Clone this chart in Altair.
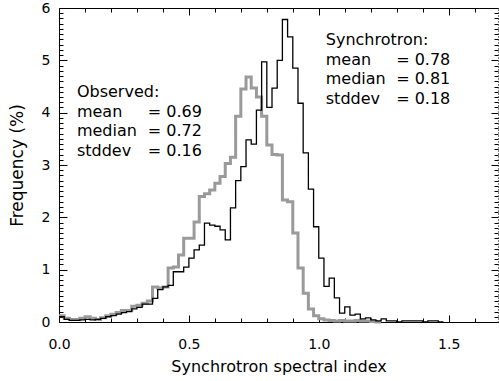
import altair as alt
import pandas as pd

# ---------------- data ----------------
BIN_WIDTH = 0.02

# Observed spectral-index histogram (%), bins of 0.02 starting at 0.00
observed = [
    0.12, 0.07, 0.05, 0.05, 0.07, 0.10, 0.07, 0.05, 0.08, 0.12,
    0.15, 0.18, 0.22, 0.22, 0.30, 0.32, 0.36, 0.40, 0.67, 0.65,
    0.67, 1.03, 1.05, 1.28, 1.60, 1.60, 1.91, 2.40, 2.45, 2.52,
    2.65, 2.78, 3.03, 3.15, 3.93, 4.45, 4.68, 4.47, 4.30, 3.93,
    3.38, 3.20, 3.19, 2.33, 2.30, 1.70, 1.03, 0.55, 0.25, 0.12,
    0.06, 0.04, 0.03, 0.02, 0.03, 0.02, 0.02, 0.03, 0.02, 0.02,
    0.01, 0.00,
]

# Synchrotron spectral-index histogram (%), bins of 0.02 starting at 0.00
synchrotron = [
    0.10, 0.05, 0.03, 0.03, 0.04, 0.05, 0.04, 0.05, 0.07, 0.10,
    0.12, 0.15, 0.18, 0.20, 0.25, 0.28, 0.34, 0.34, 0.45, 0.62,
    0.67, 0.70, 0.96, 0.96, 1.05, 1.22, 1.38, 1.47, 1.89, 1.85,
    1.83, 1.76, 1.57, 2.18, 2.70, 2.97, 3.48, 3.40, 4.05, 4.97,
    4.10, 4.47, 5.00, 5.78, 5.45, 4.85, 4.18, 3.23, 2.54, 1.82,
    1.22, 0.68, 0.84, 0.46, 0.17, 0.29, 0.13, 0.15, 0.06, 0.08,
    0.04, 0.02, 0.06, 0.02, 0.02, 0.00, 0.02, 0.02, 0.02, 0.02,
    0.00, 0.02, 0.02, 0.00,
]

x_major = [0.0, 0.5, 1.0, 1.5]
x_minor = [0.1, 0.2, 0.3, 0.4, 0.6, 0.7, 0.8, 0.9, 1.1, 1.2, 1.3, 1.4, 1.6]
y_major = [0, 1, 2, 3, 4, 5, 6]
y_minor = [round(i / 10, 1) for i in range(1, 60) if i % 10]

obs_labels = ["Observed:", "mean", "median", "stddev"]
obs_values = ["", "=  0.69", "=  0.72", "=  0.16"]
syn_labels = ["Synchrotron:", "mean", "median", "stddev"]
syn_values = ["", "=  0.78", "=  0.81", "=  0.18"]

X_TITLE = "Synchrotron spectral index"
Y_TITLE = "Frequency (%)"

# ---------------- chart ----------------
FONT = "DejaVu Sans"
W, H = 439, 314


def step_frame(values):
    edges = [round(i * BIN_WIDTH, 2) for i in range(len(values) + 1)]
    return pd.DataFrame({"x": edges, "y": values + [values[-1]]})


df_obs = step_frame(observed)
df_syn = step_frame(synchrotron)

xs = alt.Scale(domain=[0, 1.69], nice=False, zero=False)
ys = alt.Scale(domain=[0, 6], nice=False, zero=False)

tick_common = dict(ticks=True, tickColor="black", tickWidth=1, labels=False,
                   grid=False, title=None)


def ghost_x(axis):
    return alt.Chart(df_obs).mark_point(opacity=0).encode(
        x=alt.X("x:Q", scale=xs, axis=axis),
        y=alt.Y("y:Q", scale=ys, axis=None),
    )


def ghost_y(axis):
    return alt.Chart(df_obs).mark_point(opacity=0).encode(
        x=alt.X("x:Q", scale=xs, axis=None),
        y=alt.Y("y:Q", scale=ys, axis=axis),
    )


axis_layers = [
    # bottom: labels, title, domain
    ghost_x(alt.Axis(orient="bottom", values=x_major, format=".1f", ticks=False,
                     tickSize=0, labelPadding=15, labelFontSize=14, labelFont=FONT,
                     labelColor="black", labelFlush=False, title=X_TITLE,
                     titleFont=FONT, titleFontSize=16, titleFontWeight="normal",
                     titleColor="black", titlePadding=7, domain=True,
                     domainColor="black", domainWidth=1, grid=False)),
    # bottom inward ticks
    ghost_x(alt.Axis(orient="top", offset=-H, values=x_major, tickSize=7,
                     domain=False, **tick_common)),
    ghost_x(alt.Axis(orient="top", offset=-H, values=x_minor, tickSize=4,
                     domain=False, **tick_common)),
    # top frame with inward ticks
    ghost_x(alt.Axis(orient="bottom", offset=-H, values=x_major, tickSize=7,
                     domain=True, domainColor="black", domainWidth=1, **tick_common)),
    ghost_x(alt.Axis(orient="bottom", offset=-H, values=x_minor, tickSize=4,
                     domain=False, **tick_common)),
    # left: labels, title, domain
    ghost_y(alt.Axis(orient="left", values=y_major, format="d", ticks=False,
                     tickSize=0, labelPadding=9, labelFontSize=14, labelFont=FONT,
                     labelColor="black", labelFlush=False, title=Y_TITLE,
                     titleFont=FONT, titleFontSize=17, titleFontWeight="normal",
                     titleColor="black", titlePadding=15, domain=True,
                     domainColor="black", domainWidth=1, grid=False)),
    # left inward ticks
    ghost_y(alt.Axis(orient="right", offset=-W, values=y_major, tickSize=8,
                     domain=False, **tick_common)),
    ghost_y(alt.Axis(orient="right", offset=-W, values=y_minor, tickSize=4,
                     domain=False, **tick_common)),
    # right frame (dotted) with inward ticks
    ghost_y(alt.Axis(orient="left", offset=-W, values=y_major, tickSize=7,
                     domain=True, domainColor="black", domainWidth=1,
                     domainDash=[1, 2], **tick_common)),
    ghost_y(alt.Axis(orient="left", offset=-W, values=y_minor, tickSize=4,
                     domain=False, **tick_common)),
]

grey = alt.Chart(df_obs).mark_line(
    interpolate="step-after", color="#9a9a9a", strokeWidth=3, strokeJoin="miter"
).encode(
    x=alt.X("x:Q", scale=xs, axis=None),
    y=alt.Y("y:Q", scale=ys, axis=None),
)

black = alt.Chart(df_syn).mark_line(
    interpolate="step-after", color="black", strokeWidth=1.3, strokeJoin="miter"
).encode(
    x=alt.X("x:Q", scale=xs, axis=None),
    y=alt.Y("y:Q", scale=ys, axis=None),
)


def text_block(lines, xpos, ypos):
    return alt.Chart(pd.DataFrame({"t": ["\n".join(lines)]})).mark_text(
        align="left", baseline="top", font=FONT, fontSize=16, lineHeight=19.7,
        lineBreak="\n", color="black",
    ).encode(
        x=alt.XDatum(xpos, scale=xs, axis=None),
        y=alt.YDatum(ypos, scale=ys, axis=None),
        text="t:N",
    )


texts = [
    text_block(obs_labels, 0.069, 4.55),
    text_block(obs_values, 0.342, 4.55),
    text_block(syn_labels, 1.027, 5.54),
    text_block(syn_values, 1.298, 5.54),
]

chart = alt.layer(*axis_layers, grey, black, *texts).resolve_axis(
    x="independent", y="independent"
).properties(
    width=W,
    height=H,
    padding={"left": 59, "top": 8, "right": 1, "bottom": 59},
    autosize=alt.AutoSizeParams(type="none"),
).configure_view(stroke=None)

chart.save("out.html", embed_options={"renderer": "svg", "actions": False})
